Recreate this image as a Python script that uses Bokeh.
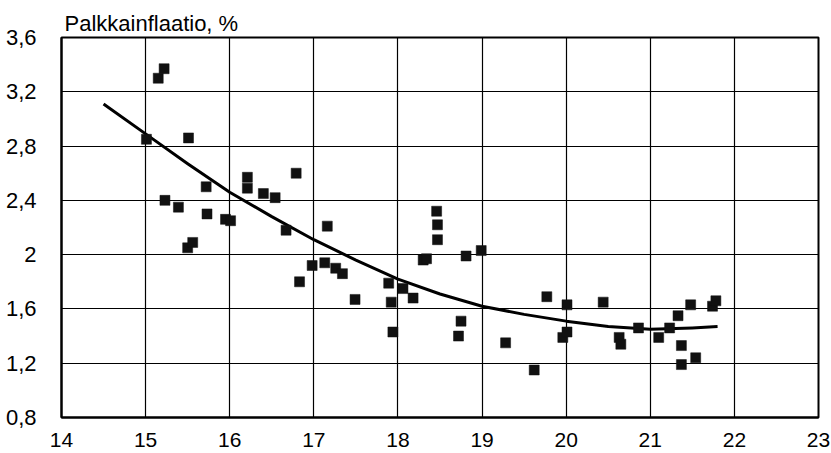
from bokeh.plotting import figure
from bokeh.models import FixedTicker, CustomJSTickFormatter, Range1d
from bokeh.embed import file_html
from bokeh.resources import INLINE

# Scatter data
x_vals = [15.01, 15.15, 15.22, 15.23, 15.39, 15.50, 15.51, 15.56, 15.72, 15.73,
          15.95, 16.01, 16.21, 16.21, 16.40, 16.54, 16.67, 16.79, 16.83, 16.98,
          17.13, 17.16, 17.26, 17.34, 17.49, 17.89, 17.92, 17.94, 18.06, 18.18,
          18.30, 18.34, 18.46, 18.47, 18.47, 18.72, 18.75, 18.81, 18.99, 19.28,
          19.62, 19.77, 19.96, 20.01, 20.01, 20.44, 20.63, 20.65, 20.86, 21.10,
          21.23, 21.33, 21.37, 21.37, 21.48, 21.54, 21.74, 21.78]
y_vals = [2.85, 3.30, 3.37, 2.40, 2.35, 2.05, 2.86, 2.09, 2.50, 2.30,
          2.26, 2.25, 2.57, 2.49, 2.45, 2.42, 2.18, 2.60, 1.80, 1.92,
          1.94, 2.21, 1.90, 1.86, 1.67, 1.79, 1.65, 1.43, 1.75, 1.68,
          1.96, 1.97, 2.32, 2.22, 2.11, 1.40, 1.51, 1.99, 2.03, 1.35,
          1.15, 1.69, 1.39, 1.63, 1.43, 1.65, 1.39, 1.34, 1.46, 1.39,
          1.46, 1.55, 1.33, 1.19, 1.63, 1.24, 1.62, 1.66]

# Trendline points
trend_x = [14.5, 15.0, 15.5, 16.0, 16.5, 17.0, 17.5, 18.0, 18.5, 19.0,
           19.5, 20.0, 20.5, 21.0, 21.5, 21.8]
trend_y = [3.11, 2.89, 2.67, 2.46, 2.28, 2.11, 1.96, 1.82, 1.71, 1.62,
           1.56, 1.51, 1.47, 1.45, 1.46, 1.47]

x_ticks = [14, 15, 16, 17, 18, 19, 20, 21, 22, 23]
y_ticks = [0.8, 1.2, 1.6, 2.0, 2.4, 2.8, 3.2, 3.6]
title_text = "Palkkainflaatio, %"

FONT = "Liberation Sans"

p = figure(width=830, height=453, output_backend="svg", toolbar_location=None,
           x_range=Range1d(x_ticks[0], x_ticks[-1]),
           y_range=Range1d(y_ticks[0], y_ticks[-1]),
           min_border_left=61, min_border_right=12, min_border_top=37,
           min_border_bottom=36, title=title_text)

p.title.text_font = FONT
p.title.text_font_size = "22px"
p.title.text_font_style = "normal"
p.title.align = "left"
p.title.offset = 3
p.title.standoff = 4
p.title.text_color = "black"

p.line(trend_x, trend_y, line_color="black", line_width=3, line_join="round")
p.scatter(x_vals, y_vals, marker="square", size=10, fill_color="#111111",
          line_color="#111111", line_width=0.5)

p.xaxis.ticker = FixedTicker(ticks=x_ticks)
p.yaxis.ticker = FixedTicker(ticks=y_ticks)
p.yaxis.formatter = CustomJSTickFormatter(
    code="var s = (Math.round(tick*10)/10).toString(); return s.replace('.', ',');")

for ax in (p.xaxis, p.yaxis):
    ax.major_label_text_font = FONT
    ax.major_label_text_color = "black"
    ax.major_tick_line_color = None
    ax.minor_tick_line_color = None
    ax.axis_line_color = "black"
    ax.axis_line_width = 2
p.yaxis.major_label_text_font_size = "22px"
p.xaxis.major_label_text_font_size = "21px"
p.xaxis.major_label_standoff = 9
p.yaxis.major_label_standoff = 19

p.xgrid.grid_line_color = "black"
p.ygrid.grid_line_color = "black"
p.xgrid.grid_line_width = 1.2
p.ygrid.grid_line_width = 1.2
p.outline_line_color = "black"
p.outline_line_width = 2
p.outline_line_alpha = 1.0
p.background_fill_color = "white"
p.border_fill_color = "white"

open("out.html", "w").write(file_html(p, INLINE))
